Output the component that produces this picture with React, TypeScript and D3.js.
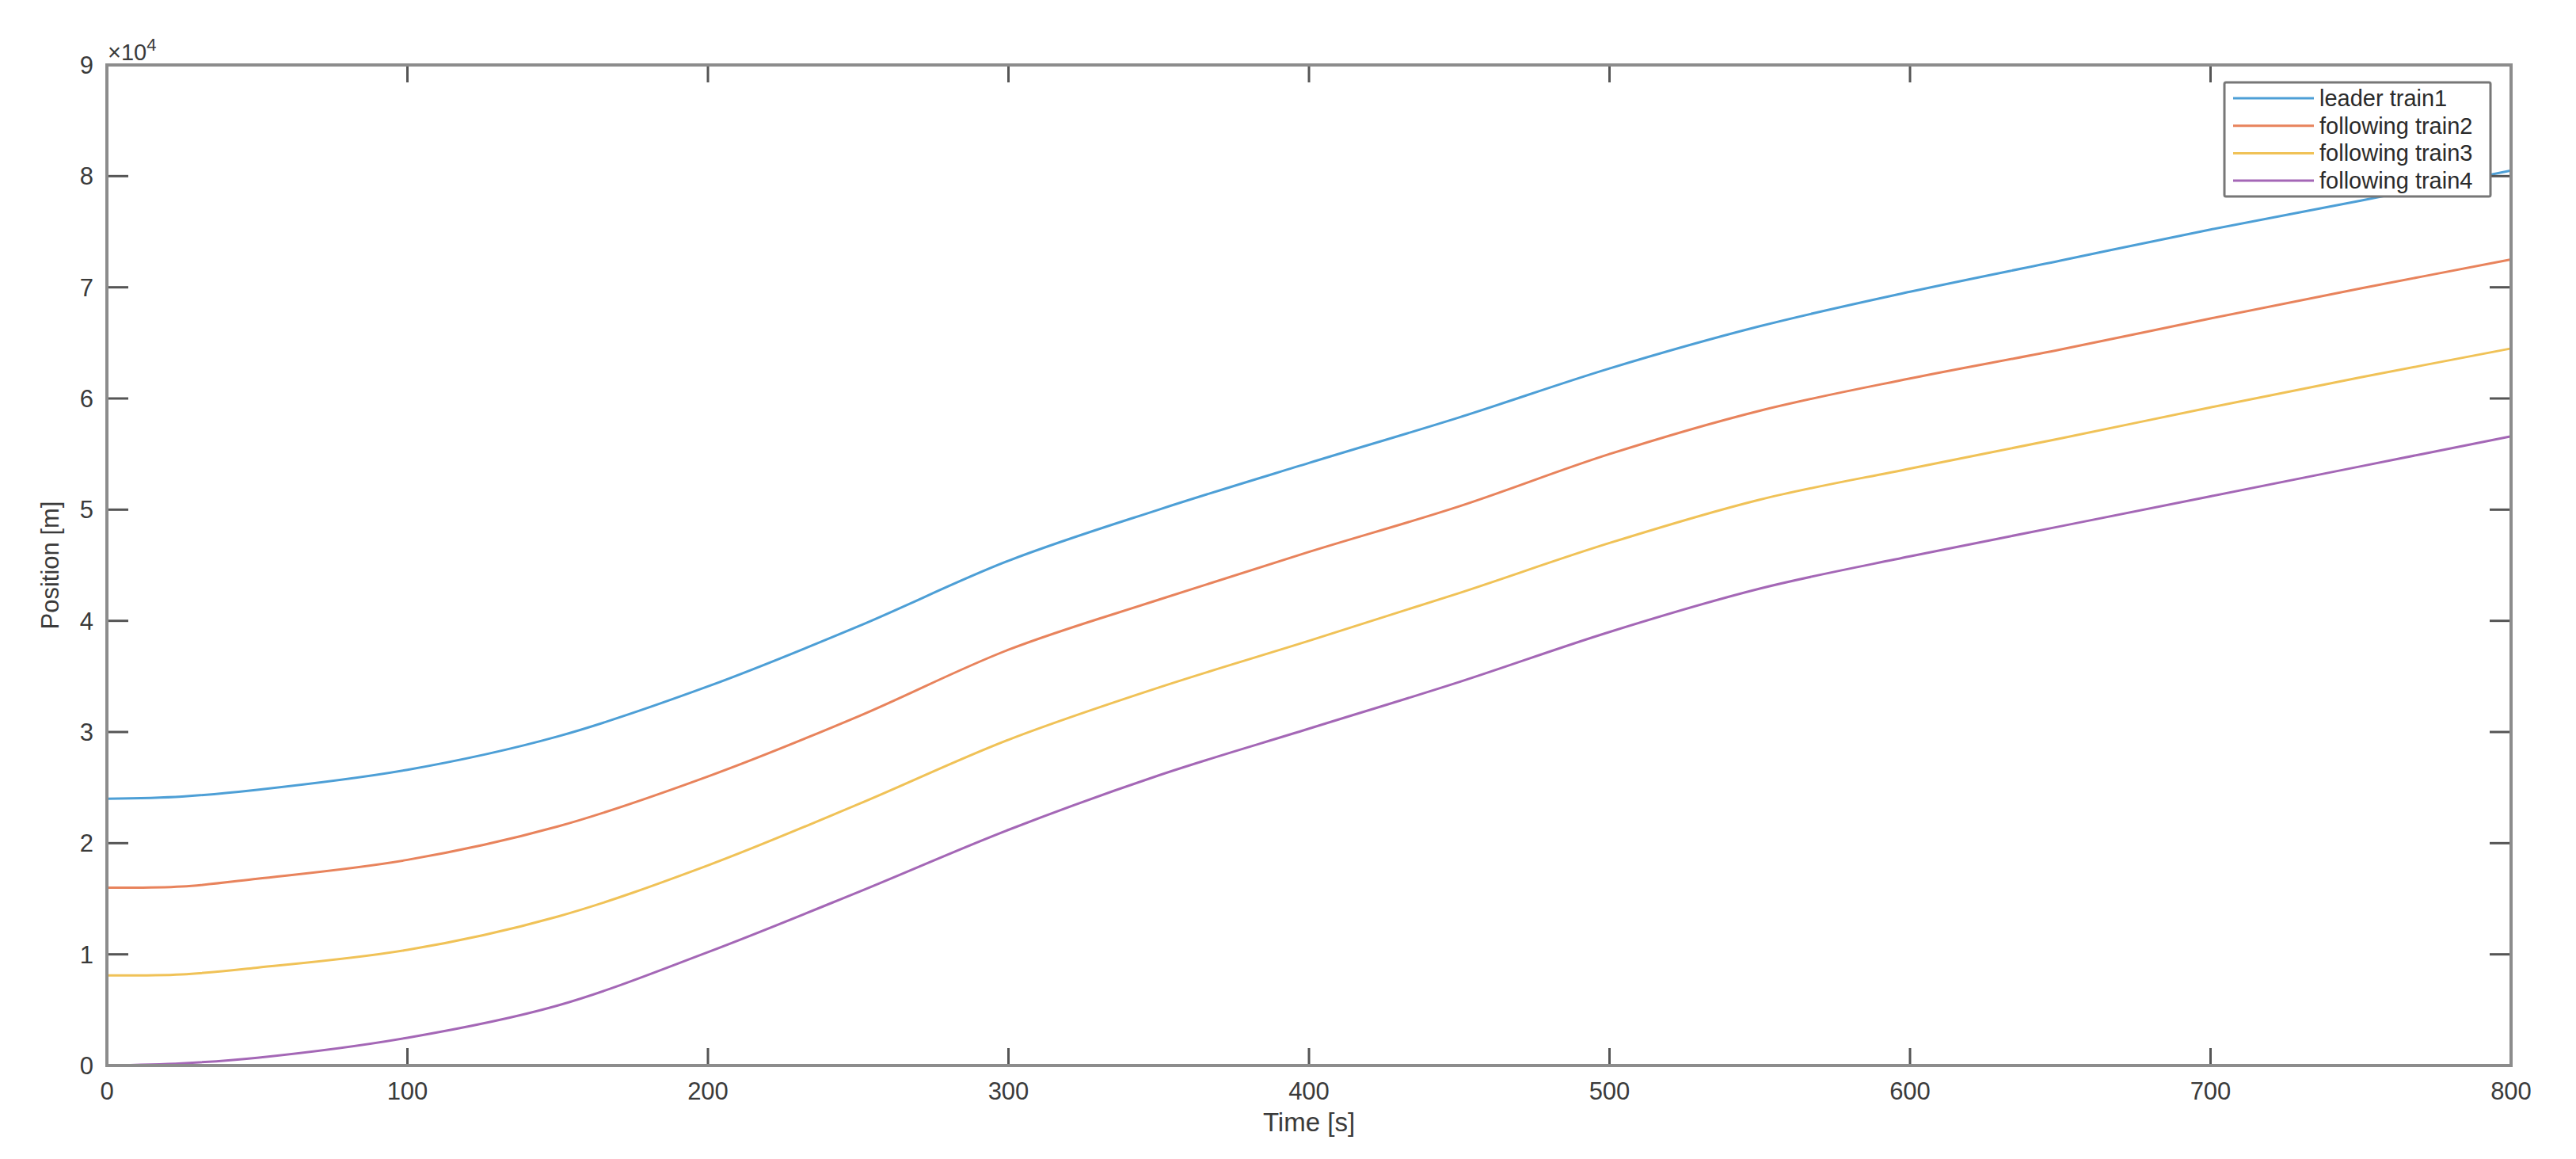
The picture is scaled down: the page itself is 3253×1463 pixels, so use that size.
import React, { useEffect, useRef } from 'react';
import * as d3 from 'd3';

// time samples [s]
const time = [0, 25, 50, 100, 150, 200, 250, 300, 350, 400, 450, 500, 550, 600, 650, 700, 750, 800];

// positions [m]
const leaderTrain1 = [24000, 24200, 24800, 26600, 29600, 34100, 39500, 45400, 50000, 54200, 58300, 62700, 66500, 69600, 72400, 75200, 77800, 80500];
const followingTrain2 = [16000, 16100, 16800, 18500, 21500, 26000, 31400, 37400, 41900, 46200, 50300, 55000, 58900, 61800, 64400, 67200, 69900, 72500];
const followingTrain3 = [8100, 8200, 8800, 10400, 13400, 18000, 23500, 29300, 34000, 38200, 42500, 47000, 50900, 53700, 56400, 59200, 61900, 64500];
const followingTrain4 = [0, 200, 700, 2500, 5400, 10200, 15600, 21200, 26100, 30300, 34500, 39000, 42900, 45800, 48500, 51200, 53900, 56600];

const seriesNames = ['leader train1', 'following train2', 'following train3', 'following train4'];
const seriesColors = ['#4d9fd6', '#e8835c', '#f0c257', '#a467b6'];

const xTicks = [0, 100, 200, 300, 400, 500, 600, 700, 800];
const yTicks = [0, 1, 2, 3, 4, 5, 6, 7, 8, 9];

const App = () => {
  const ref = useRef(null);

  useEffect(() => {
    const width = 3253;
    const height = 1463;
    const left = 135;
    const right = 3171;
    const top = 82;
    const bottom = 1345;
    const font = '"Liberation Sans", Arial, sans-serif';
    const textColor = '#3a3a3a';

    const svg = d3.select(ref.current);
    svg.selectAll('*').remove();
    svg.attr('width', width).attr('height', height).style('background', '#fff');

    const x = d3.scaleLinear().domain([0, 800]).range([left, right]);
    const y = d3.scaleLinear().domain([0, 90000]).range([bottom, top]);

    const allSeries = [leaderTrain1, followingTrain2, followingTrain3, followingTrain4];

    const line = d3
      .line()
      .x((d) => x(d[0]))
      .y((d) => y(d[1]))
      .curve(d3.curveCatmullRom.alpha(0.5));

    const gLines = svg.append('g').attr('fill', 'none').attr('stroke-width', 3);
    allSeries.forEach((s, i) => {
      gLines
        .append('path')
        .attr('d', line(time.map((t, j) => [t, s[j]])))
        .attr('stroke', seriesColors[i]);
    });

    // ticks (inward, on all four sides)
    const gTicks = svg.append('g').attr('stroke', '#555').attr('stroke-width', 3);
    xTicks.forEach((t) => {
      gTicks.append('line').attr('x1', x(t)).attr('x2', x(t)).attr('y1', bottom).attr('y2', bottom - 22);
      gTicks.append('line').attr('x1', x(t)).attr('x2', x(t)).attr('y1', top).attr('y2', top + 22);
    });
    yTicks.forEach((t) => {
      gTicks.append('line').attr('x1', left).attr('x2', left + 27).attr('y1', y(t * 10000)).attr('y2', y(t * 10000));
      gTicks.append('line').attr('x1', right).attr('x2', right - 27).attr('y1', y(t * 10000)).attr('y2', y(t * 10000));
    });

    // axes box
    svg
      .append('rect')
      .attr('x', left)
      .attr('y', top)
      .attr('width', right - left)
      .attr('height', bottom - top)
      .attr('fill', 'none')
      .attr('stroke', '#8c8c8c')
      .attr('stroke-width', 4);

    // tick labels
    const gLabels = svg.append('g').attr('fill', textColor).style('font-family', font).style('font-size', '31px');
    xTicks.forEach((t) => {
      gLabels.append('text').attr('x', x(t)).attr('y', 1388).attr('text-anchor', 'middle').text(t);
    });
    yTicks.forEach((t) => {
      gLabels
        .append('text')
        .attr('x', 118)
        .attr('y', y(t * 10000) + 11)
        .attr('text-anchor', 'end')
        .text(t);
    });

    // exponent
    const expo = svg.append('text').attr('x', 136).attr('y', 76).attr('fill', textColor).style('font-family', font).style('font-size', '29px');
    expo.append('tspan').text('×10');
    expo.append('tspan').attr('dy', -12).style('font-size', '22px').text('4');

    // axis titles
    svg
      .append('text')
      .attr('x', (left + right) / 2)
      .attr('y', 1428)
      .attr('text-anchor', 'middle')
      .attr('fill', textColor)
      .style('font-family', font)
      .style('font-size', '33px')
      .text('Time [s]');

    svg
      .append('text')
      .attr('transform', `translate(74, ${(top + bottom) / 2}) rotate(-90)`)
      .attr('text-anchor', 'middle')
      .attr('fill', textColor)
      .style('font-family', font)
      .style('font-size', '31px')
      .text('Position [m]');

    // legend
    const legend = svg.append('g');
    legend
      .append('rect')
      .attr('x', 2809)
      .attr('y', 104)
      .attr('width', 336)
      .attr('height', 144)
      .attr('rx', 2)
      .attr('fill', '#fff')
      .attr('stroke', '#777')
      .attr('stroke-width', 3);
    seriesNames.forEach((name, i) => {
      const yy = 124 + i * 34.7;
      legend
        .append('line')
        .attr('x1', 2820)
        .attr('x2', 2922)
        .attr('y1', yy)
        .attr('y2', yy)
        .attr('stroke', seriesColors[i])
        .attr('stroke-width', 3);
      legend
        .append('text')
        .attr('x', 2929)
        .attr('y', yy + 10)
        .attr('fill', '#2a2a2a')
        .style('font-family', font)
        .style('font-size', '29px')
        .text(name);
    });
  }, []);

  return <svg ref={ref} style={{ position: 'absolute', left: 0, top: 0 }} />;
};

export default App;
